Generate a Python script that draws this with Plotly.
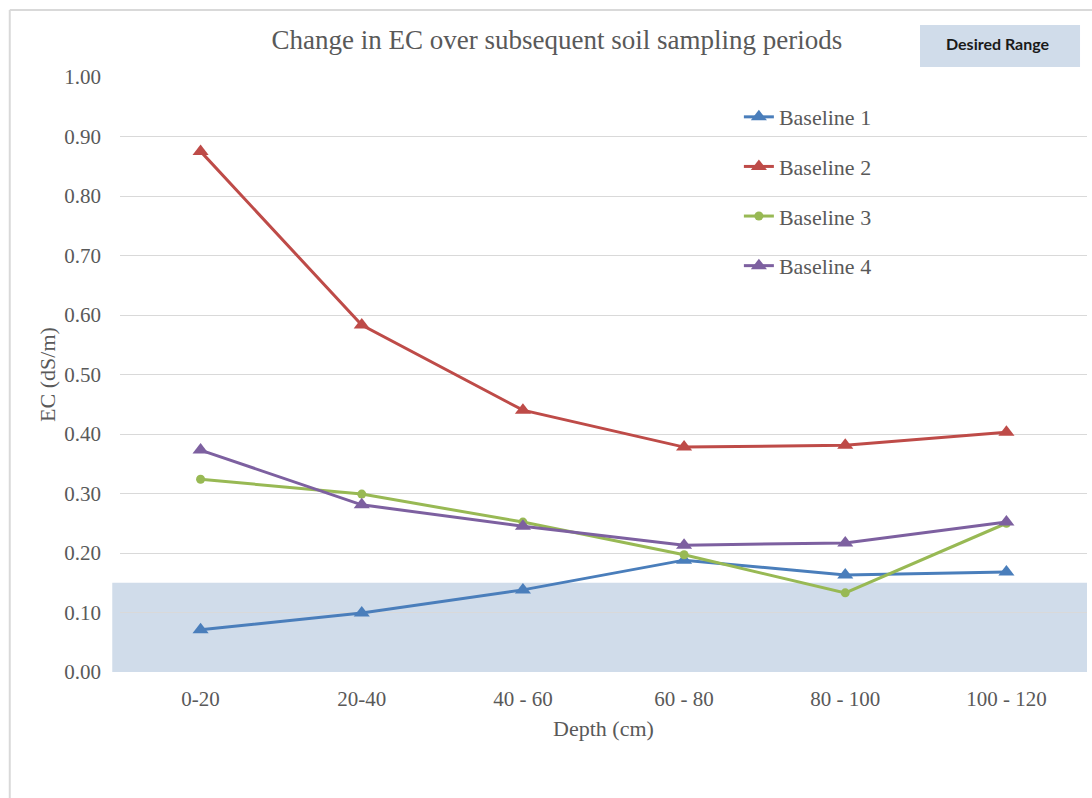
import plotly.graph_objects as go

depths = ["0-20", "20-40", "40 - 60", "60 - 80", "80 - 100", "100 - 120"]
baseline1 = [0.071, 0.099, 0.138, 0.188, 0.163, 0.168]
baseline2 = [0.875, 0.583, 0.440, 0.378, 0.381, 0.403]
baseline3 = [0.324, 0.299, 0.252, 0.197, 0.133, 0.250]
baseline4 = [0.373, 0.281, 0.245, 0.213, 0.217, 0.252]
series_names = ["Baseline 1", "Baseline 2", "Baseline 3", "Baseline 4"]
desired_low, desired_high = 0.0, 0.15
y_ticks = [0.0, 0.1, 0.2, 0.3, 0.4, 0.5, 0.6, 0.7, 0.8, 0.9, 1.0]

colors = ["#4a7ebb", "#be4b48", "#98b954", "#7d60a0"]
symbols = ["triangle-up", "triangle-up", "circle", "triangle-up"]
msizes = [14, 14, 9, 14]
TEXT = "#595959"
SERIF = "Liberation Serif"

fig = go.Figure()
for i, (name, vals) in enumerate(zip(series_names, [baseline1, baseline2, baseline3, baseline4])):
    fig.add_trace(go.Scatter(
        x=depths, y=vals, name=name, mode="lines+markers",
        line=dict(color=colors[i], width=3),
        marker=dict(symbol=symbols[i], size=msizes[i], color=colors[i]),
        legendgroup=name,
    ))

# Desired range band
fig.add_shape(type="rect", xref="paper", yref="y", x0=-0.008, x1=1.0,
              y0=desired_low, y1=desired_high, fillcolor="#d0dcea",
              line=dict(width=0), layer="below")

# Chart border (top & left)
fig.add_shape(type="line", xref="paper", yref="paper", x0=-0.114, x1=1.01,
              y0=1.1126, y1=1.1126, line=dict(color="#d9d9d9", width=2))
fig.add_shape(type="line", xref="paper", yref="paper", x0=-0.114, x1=-0.114,
              y0=1.1126, y1=-0.22, line=dict(color="#d9d9d9", width=2))

# Desired Range label box
fig.add_shape(type="rect", xref="paper", yref="paper", x0=0.8273, x1=0.9928,
              y0=1.0168, y1=1.0874, fillcolor="#d0dcea", line=dict(width=0))
fig.add_annotation(xref="paper", yref="paper", x=0.908, y=1.057,
                   xanchor="center", yanchor="middle",
                   text="<b>Desired Range</b>", showarrow=False,
                   font=dict(family="Lato", size=16, color="#1a1a1a"))

fig.update_layout(
    width=1092, height=798,
    margin=dict(l=120, r=5, t=77, b=126),
    paper_bgcolor="white", plot_bgcolor="white",
    title=dict(text="Change in EC over subsequent soil sampling periods",
               x=0.510, xanchor="center", y=0.950, yanchor="middle",
               font=dict(family=SERIF, size=27, color=TEXT)),
    font=dict(family=SERIF, color=TEXT, size=21),
    legend=dict(x=0.640, y=0.968, xanchor="left", yanchor="top",
                font=dict(family=SERIF, size=22, color=TEXT),
                bgcolor="rgba(0,0,0,0)", tracegroupgap=18, itemwidth=30),
    showlegend=True,
    xaxis=dict(type="category", range=[-0.5, 5.5], showgrid=False,
               showline=False, zeroline=False, ticks="",
               tickfont=dict(family=SERIF, size=21, color=TEXT),
               ticklabelstandoff=12,
               title=dict(text="Depth (cm)", standoff=10,
                          font=dict(family=SERIF, size=22, color=TEXT))),
    yaxis=dict(range=[0, 1.0], tickvals=y_ticks, tickformat=".2f",
               showgrid=True, gridcolor="#d9d9d9", gridwidth=1,
               zeroline=False, showline=False, ticks="",
               tickfont=dict(family=SERIF, size=21, color=TEXT),
               ticklabelstandoff=18,
               title=dict(text="EC (dS/m)", standoff=2,
                          font=dict(family=SERIF, size=22, color=TEXT))),
)

fig.write_html("out.html")
